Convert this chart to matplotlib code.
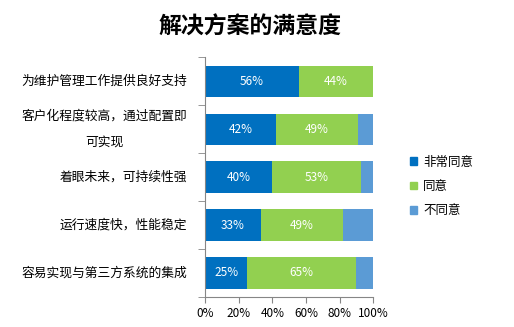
import matplotlib
matplotlib.use("Agg")
import matplotlib.pyplot as plt
import numpy as np
from matplotlib.ticker import PercentFormatter
from matplotlib.patches import Patch

plt.rcParams['font.family'] = ['Noto Sans CJK SC', 'DejaVu Sans']

categories = ["为维护管理工作提供良好支持",
              "客户化程度较高，通过配置即\n可实现",
              "着眼未来，可持续性强",
              "运行速度快，性能稳定",
              "容易实现与第三方系统的集成"]
very_agree = [56, 42, 40, 33, 25]
agree = [44, 49, 53, 49, 65]
disagree = [0, 9, 7, 18, 10]
series_names = ["非常同意", "同意", "不同意"]
colors = ["#0070C0", "#92D050", "#5B9BD5"]

fig = plt.figure(figsize=(5.14, 3.27), dpi=100)
ax = fig.add_axes([0.399, 0.092, 0.327, 0.733])

y = np.arange(len(categories))[::-1]
left = np.zeros(len(categories))
for vals, name, c in zip([very_agree, agree, disagree], series_names, colors):
    vals = np.array(vals, dtype=float)
    bars = ax.barh(y, vals, left=left, height=0.65, color=c, label=name)
    if name != "不同意":
        for b, v in zip(bars, vals):
            if v > 0:
                ax.text(b.get_x() + b.get_width() / 2, b.get_y() + b.get_height() / 2,
                        f"{v:.0f}%", color="white", ha="center", va="center", fontsize=8.5)
    left += vals

ax.set_xlim(0, 100)
ax.set_ylim(-0.5, len(categories) - 0.5)
ax.xaxis.set_major_formatter(PercentFormatter(decimals=0))
ax.set_xticks(np.arange(0, 101, 20))
ax.set_yticks(y)
ax.set_yticklabels(categories, fontsize=9.2, ha="right", va="center",
                   multialignment="center", linespacing=2.3)
ax.tick_params(axis="y", length=0, pad=13)
ax.set_yticks(np.arange(-0.5, len(categories), 1), minor=True)
ax.tick_params(axis="y", which="minor", length=5, color="#868686")
ax.tick_params(axis="x", length=4, color="#868686", labelsize=8.5)
for s in ["top", "right"]:
    ax.spines[s].set_visible(False)
for s in ["left", "bottom"]:
    ax.spines[s].set_color("#868686")

fig.text(0.487, 0.918, "解决方案的满意度", ha="center", va="center",
         fontsize=16.5, fontweight="bold")

handles = [Patch(color=c, label=n) for c, n in zip(colors, series_names)]
fig.legend(handles=handles, loc="center left", bbox_to_anchor=(0.775, 0.43),
           frameon=False, fontsize=9, handlelength=0.6, handleheight=0.6,
           handletextpad=0.5, labelspacing=0.9)

fig.savefig("out.png", dpi=100)
